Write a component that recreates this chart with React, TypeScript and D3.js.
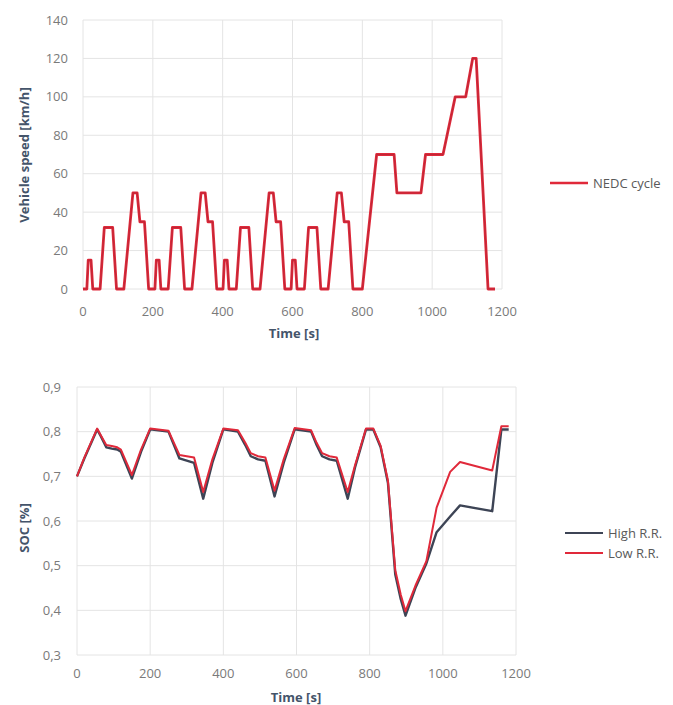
import React from "react";
import * as d3 from "d3";

// ---------- Data ----------
const nedcTime = [
  0, 11, 15, 23, 28, 49, 61, 85, 96, 117, 143, 155, 163, 176, 188, 195,
  206, 210, 218, 223, 244, 256, 280, 291, 312, 338, 350, 358, 371, 383, 390,
  401, 405, 413, 418, 439, 451, 475, 486, 507, 533, 545, 553, 566, 578, 585,
  596, 600, 608, 613, 634, 646, 670, 681, 702, 728, 740, 748, 761, 773, 780,
  800, 841, 891, 899, 968, 981, 1031, 1066, 1096, 1116, 1126, 1160, 1180,
];
const nedcSpeed = [
  0, 0, 15, 15, 0, 0, 32, 32, 0, 0, 50, 50, 35, 35, 0, 0,
  0, 15, 15, 0, 0, 32, 32, 0, 0, 50, 50, 35, 35, 0, 0,
  0, 15, 15, 0, 0, 32, 32, 0, 0, 50, 50, 35, 35, 0, 0,
  0, 15, 15, 0, 0, 32, 32, 0, 0, 50, 50, 35, 35, 0, 0,
  0, 70, 70, 50, 50, 70, 70, 100, 100, 120, 120, 0, 0,
];

const socTime = [
  0, 20, 55, 65, 80, 95, 110, 120, 150, 175, 200, 250, 265, 280, 300, 320, 345,
  370, 400, 440, 460, 475, 495, 515, 540, 565, 595, 640, 655, 670, 690, 710, 740,
  760, 790, 810, 830, 850, 870, 885, 898, 925, 955, 983, 1020, 1047, 1135, 1160, 1180,
];
const socHigh = [
  0.700, 0.740, 0.805, 0.790, 0.765, 0.762, 0.760, 0.755, 0.695, 0.755, 0.805, 0.800, 0.770, 0.740, 0.735, 0.730, 0.650,
  0.730, 0.805, 0.800, 0.770, 0.745, 0.738, 0.735, 0.655, 0.730, 0.805, 0.800, 0.770, 0.745, 0.738, 0.735, 0.650,
  0.720, 0.805, 0.805, 0.765, 0.685, 0.480, 0.425, 0.388, 0.450, 0.505, 0.575, 0.610, 0.635, 0.622, 0.805, 0.805,
];
const socLow = [
  0.700, 0.742, 0.807, 0.792, 0.770, 0.768, 0.765, 0.760, 0.703, 0.760, 0.807, 0.802, 0.775, 0.748, 0.745, 0.742, 0.665,
  0.738, 0.807, 0.803, 0.775, 0.752, 0.745, 0.742, 0.668, 0.738, 0.808, 0.803, 0.775, 0.752, 0.745, 0.742, 0.665,
  0.725, 0.807, 0.807, 0.768, 0.690, 0.490, 0.435, 0.398, 0.455, 0.510, 0.630, 0.710, 0.732, 0.713, 0.812, 0.812,
];

const timeTicks = [0, 200, 400, 600, 800, 1000, 1200];
const speedTicks = [0, 20, 40, 60, 80, 100, 120, 140];
const socTicks = [0.3, 0.4, 0.5, 0.6, 0.7, 0.8, 0.9];

const legendTop = ["NEDC cycle"];
const legendBottom = ["High R.R.", "Low R.R."];

// ---------- Styles ----------
const FONT = "'Open Sans', 'Liberation Sans', sans-serif";
const TICK_COLOR = "#7a7a7a";
const TITLE_COLOR = "#44546a";
const GRID = "#e4e4e4";
const RED = "#e0293a";
const DARK = "#3d4455";

export default function App() {
  // Top chart scales
  const x1 = d3.scaleLinear().domain([0, 1200]).range([83, 502]);
  const y1 = d3.scaleLinear().domain([0, 140]).range([289, 20]);
  // Bottom chart scales
  const x2 = d3.scaleLinear().domain([0, 1200]).range([77, 516]);
  const y2 = d3.scaleLinear().domain([0.3, 0.9]).range([655, 387]);

  const nedcData = nedcTime.map((t, i) => [t, nedcSpeed[i]] as [number, number]);
  const highData = socTime.map((t, i) => [t, socHigh[i]] as [number, number]);
  const lowData = socTime.map((t, i) => [t, socLow[i]] as [number, number]);

  const line1 = d3.line<[number, number]>().x((d) => x1(d[0])).y((d) => y1(d[1]));
  const line2 = d3.line<[number, number]>().x((d) => x2(d[0])).y((d) => y2(d[1]));

  const fmtSoc = (v: number) => d3.format(".1f")(v).replace(".", ",");

  return (
    <svg
      width={673}
      height={705}
      style={{ position: "absolute", left: 0, top: 0, background: "#fff" }}
      fontFamily={FONT}
    >
      <rect width={673} height={705} fill="#fff" />
      {/* ---------- Top chart ---------- */}
      <g>
        {speedTicks.map((v) => (
          <line key={"hg" + v} x1={x1(0)} x2={x1(1200)} y1={y1(v)} y2={y1(v)} stroke={GRID} strokeWidth={1} />
        ))}
        {timeTicks.map((t) => (
          <line key={"vg" + t} x1={x1(t)} x2={x1(t)} y1={y1(0)} y2={y1(140)} stroke={GRID} strokeWidth={1} />
        ))}
        {speedTicks.map((v) => (
          <text key={"yt" + v} x={68} y={y1(v)} dy="0.35em" textAnchor="end" fontSize={13} fill={TICK_COLOR}>
            {v}
          </text>
        ))}
        {timeTicks.map((t) => (
          <text key={"xt" + t} x={x1(t)} y={311} dy="0.35em" textAnchor="middle" fontSize={13} fill={TICK_COLOR}>
            {t}
          </text>
        ))}
        <text x={294} y={333} dy="0.35em" textAnchor="middle" fontSize={13} fontWeight="bold" fill={TITLE_COLOR}>
          Time [s]
        </text>
        <text
          transform={`translate(24,155) rotate(-90)`}
          textAnchor="middle"
          dy="0.35em"
          fontSize={13}
          fontWeight="bold"
          fill={TITLE_COLOR}
        >
          Vehicle speed [km/h]
        </text>
        <path d={line1(nedcData) || ""} fill="none" stroke={RED} strokeWidth={2.8} strokeLinejoin="round" />
        <path d={line1(nedcData) || ""} fill="none" stroke="#a82636" strokeWidth={1} strokeLinejoin="round" opacity={0.6} />
        {/* legend */}
        <line x1={550} x2={588} y1={183} y2={183} stroke={RED} strokeWidth={2.5} />
        <text x={593} y={183} dy="0.35em" fontSize={13} fill="#595959">
          {legendTop[0]}
        </text>
      </g>

      {/* ---------- Bottom chart ---------- */}
      <g>
        {socTicks.map((v) => (
          <line key={"hg2" + v} x1={x2(0)} x2={x2(1200)} y1={y2(v)} y2={y2(v)} stroke={GRID} strokeWidth={1} />
        ))}
        {timeTicks.map((t) => (
          <line key={"vg2" + t} x1={x2(t)} x2={x2(t)} y1={y2(0.3)} y2={y2(0.9)} stroke={GRID} strokeWidth={1} />
        ))}
        {socTicks.map((v) => (
          <text key={"yt2" + v} x={61} y={y2(v)} dy="0.35em" textAnchor="end" fontSize={13} fill={TICK_COLOR}>
            {fmtSoc(v)}
          </text>
        ))}
        {timeTicks.map((t) => (
          <text key={"xt2" + t} x={x2(t)} y={673} dy="0.35em" textAnchor="middle" fontSize={13} fill={TICK_COLOR}>
            {t}
          </text>
        ))}
        <text x={296} y={697} dy="0.35em" textAnchor="middle" fontSize={13} fontWeight="bold" fill={TITLE_COLOR}>
          Time [s]
        </text>
        <text
          transform={`translate(24,528) rotate(-90)`}
          textAnchor="middle"
          dy="0.35em"
          fontSize={13}
          fontWeight="bold"
          fill={TITLE_COLOR}
        >
          SOC [%]
        </text>
        <path d={line2(highData) || ""} fill="none" stroke={DARK} strokeWidth={2.4} strokeLinejoin="round" />
        <path d={line2(lowData) || ""} fill="none" stroke={RED} strokeWidth={2} strokeLinejoin="round" />
        {/* legend */}
        <line x1={565} x2={603} y1={533} y2={533} stroke={DARK} strokeWidth={2} />
        <text x={608} y={533} dy="0.35em" fontSize={13} fill="#595959">
          {legendBottom[0]}
        </text>
        <line x1={565} x2={603} y1={553} y2={553} stroke={RED} strokeWidth={2} />
        <text x={608} y={553} dy="0.35em" fontSize={13} fill="#595959">
          {legendBottom[1]}
        </text>
      </g>
    </svg>
  );
}
